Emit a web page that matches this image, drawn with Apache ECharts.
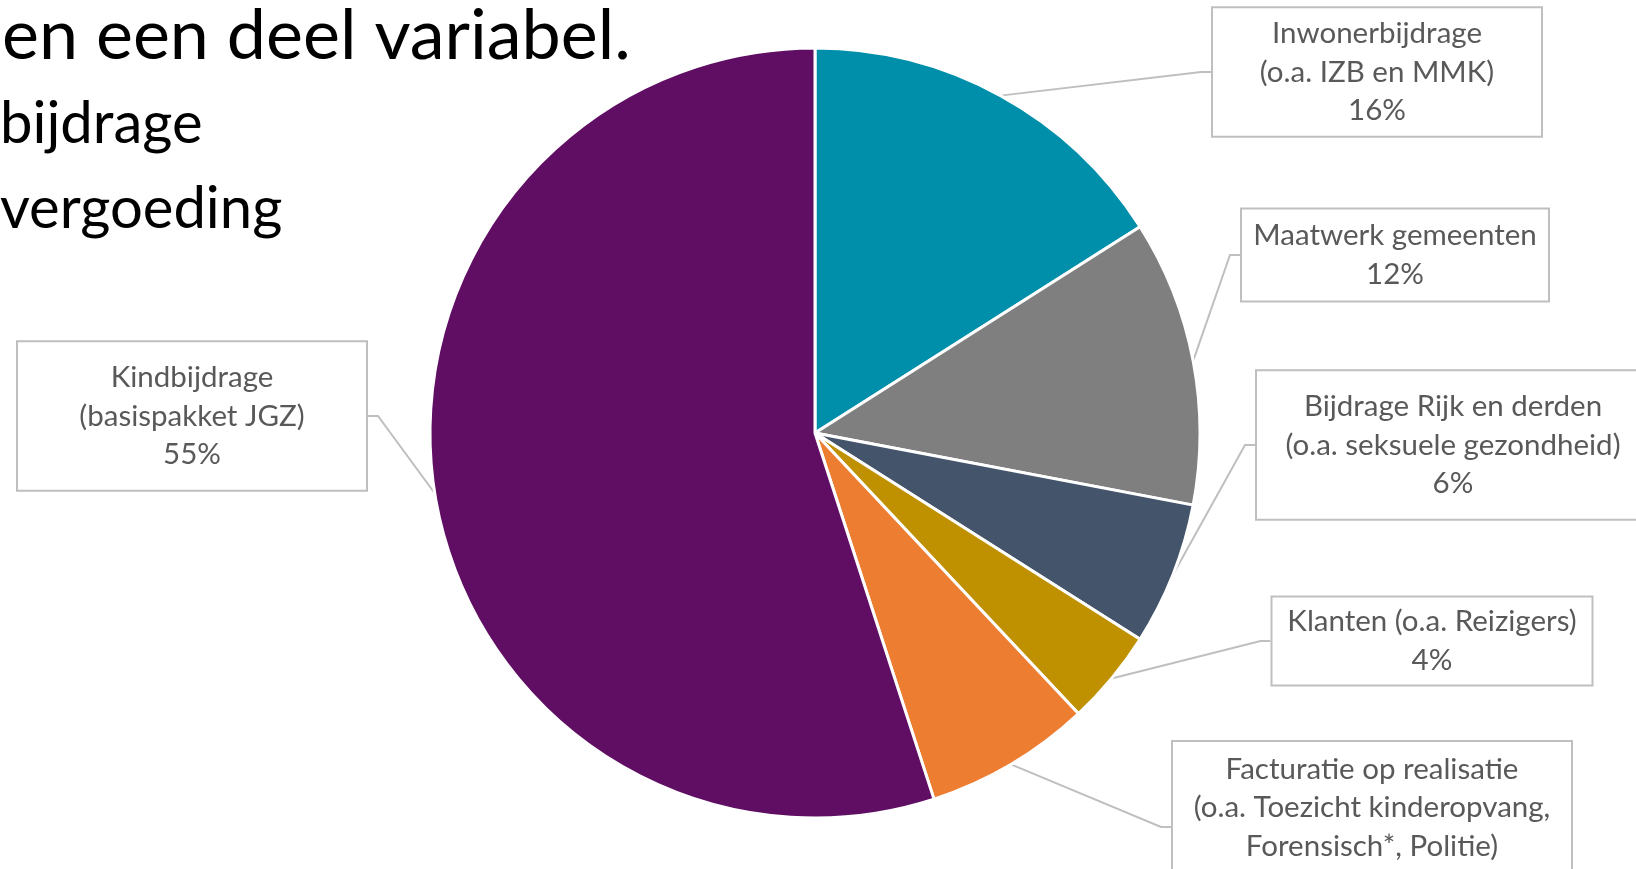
<!DOCTYPE html>
<html>
<head>
<meta charset="utf-8">
<script src="https://cdn.jsdelivr.net/npm/echarts@6/dist/echarts.min.js"></script>
<style>
html,body{margin:0;padding:0;background:#fff;}
#chart{width:1636px;height:869px;}
</style>
</head>
<body>
<div id="chart"></div>
<script>
// ---- data ----
const categories = [
  'Inwonerbijdrage\n(o.a. IZB en MMK)',
  'Maatwerk gemeenten',
  'Bijdrage Rijk en derden\n(o.a. seksuele gezondheid)',
  'Klanten (o.a. Reizigers)',
  'Facturatie op realisatie\n(o.a. Toezicht kinderopvang,\nForensisch*, Politie)',
  'Kindbijdrage\n(basispakket JGZ)'
];
const values = [16, 12, 6, 4, 7, 55];
const sliceColors = ['#008FAB', '#7F7F7F', '#44546A', '#BF9000', '#ED7D31', '#5F0E63'];
const slideLines = ['en een deel variabel.', 'bijdrage', 'vergoeding'];

// ---- label box layout (centre x/y, box width, vertical padding) ----
const labelBoxes = [
  {cx: 1377, cy: 72,  w: 332, pv: 6},
  {cx: 1395, cy: 255, w: 310, pv: 7},
  {cx: 1453, cy: 445, w: 396, pv: 16},
  {cx: 1432, cy: 641, w: 323, pv: 5},
  {cx: 1372, cy: 827, w: 402, pv: 8},
  {cx: 192,  cy: 416, w: 352, pv: 16}
];

const chart = echarts.init(document.getElementById('chart'));

const seriesData = categories.map((name, i) => ({
  name: name,
  value: values[i],
  itemStyle: {color: sliceColors[i]},
  label: {width: labelBoxes[i].w - 4, padding: [labelBoxes[i].pv + 3, 0, labelBoxes[i].pv - 3, 0]}
}));

chart.setOption({
  animation: false,
  backgroundColor: '#ffffff',
  graphic: [
    {type: 'text', left: 2, top: 1, style: {text: slideLines[0], fontSize: 70, fontFamily: 'Lato', fill: '#000000'}},
    {type: 'text', left: 0, top: 95, style: {text: slideLines[1], fontSize: 58, fontFamily: 'Lato', fill: '#000000'}},
    {type: 'text', left: 0, top: 180, style: {text: slideLines[2], fontSize: 58, fontFamily: 'Lato', fill: '#000000'}}
  ],
  series: [{
    type: 'pie',
    center: [815, 433],
    radius: 385,
    startAngle: 90,
    clockwise: true,
    avoidLabelOverlap: false,
    data: seriesData,
    itemStyle: {borderColor: '#ffffff', borderWidth: 3},
    label: {
      show: true,
      position: 'outside',
      formatter: '{b}\n{c}%',
      color: '#595959',
      fontFamily: 'Lato',
      fontSize: 29.5,
      lineHeight: 38.5,
      align: 'center',
      backgroundColor: '#ffffff',
      borderColor: '#BFBFBF',
      borderWidth: 2
    },
    labelLine: {
      show: true,
      length: 12,
      length2: 10,
      lineStyle: {color: '#BFBFBF', width: 2}
    },
    labelLayout: function (params) {
      const b = labelBoxes[params.dataIndex];
      return {x: b.cx, y: b.cy, align: 'center', verticalAlign: 'middle'};
    },
    emphasis: {disabled: true}
  }]
});
</script>
</body>
</html>
